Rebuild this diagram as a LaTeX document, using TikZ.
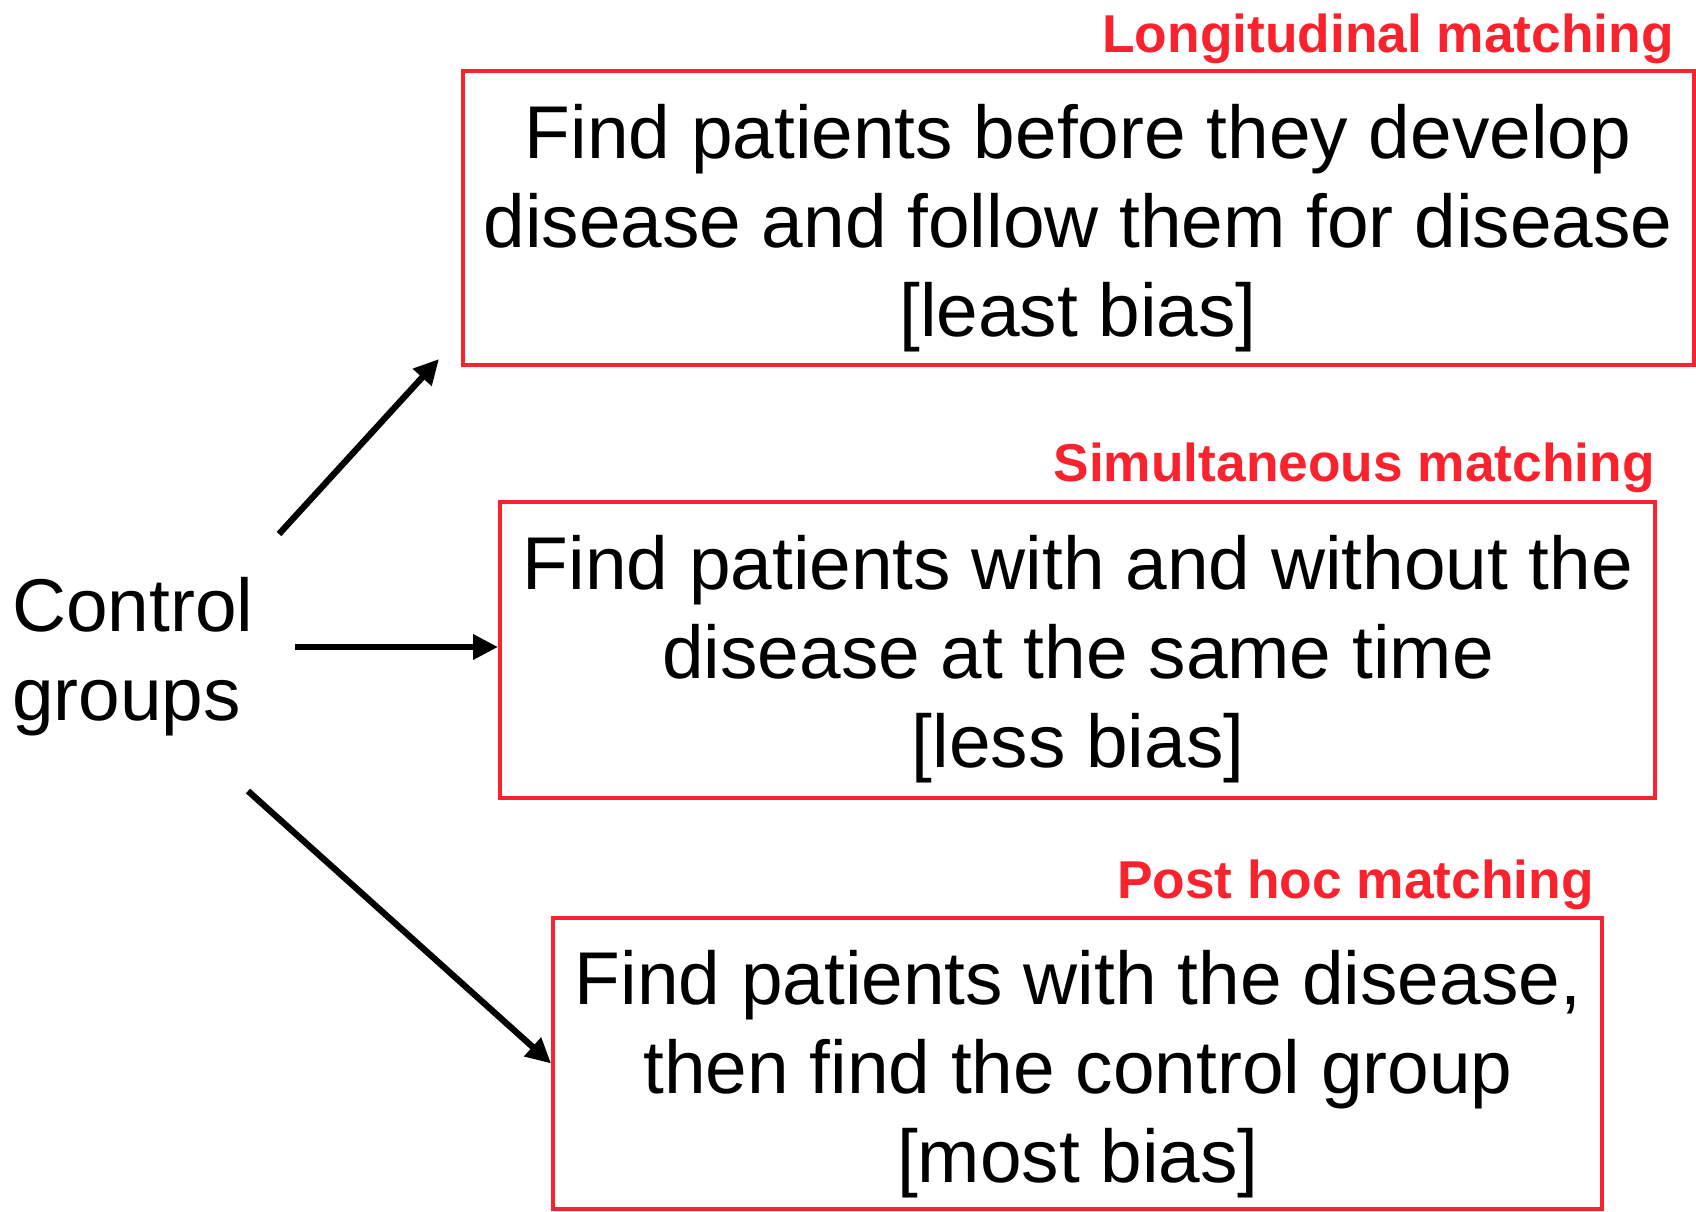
\documentclass[tikz,border=0pt]{standalone}
\usepackage{fontspec}
\setmainfont{Liberation Sans}
\usetikzlibrary{arrows.meta}
\definecolor{boxred}{RGB}{250,35,45}
\tikzset{
  redbox/.style={draw=boxred, line width=3.8pt, inner sep=0pt},
  bodytext/.style={align=center, inner sep=0pt, font=\fontsize{74.8pt}{89pt}\selectfont},
  tag/.style={text=boxred, inner sep=0pt, font=\bfseries\fontsize{53.3pt}{60pt}\selectfont},
  link/.style={line width=6.3pt, -{Triangle[length=25pt,width=24pt]}}
}
\begin{document}
\begin{tikzpicture}[x=1pt,y=-1pt]
\useasboundingbox (0,0) rectangle (1696,1211);

% three method boxes
\node[redbox, minimum width=1231pt, minimum height=294pt] (b1) at (1078.5,218) {};
\node[redbox, minimum width=1155pt, minimum height=296pt] (b2) at (1077.5,650) {};
\node[redbox, minimum width=1049pt, minimum height=291pt] (b3) at (1077.5,1063.5) {};

\node[bodytext] (t1) at (1078,228) {Find patients before they develop\\disease and follow them for disease\\{[least bias]}};
\node[bodytext] (t2) at (1078,659) {Find patients with and without the\\disease at the same time\\{[less bias]}};
\node[bodytext] (t3) at (1078,1074) {Find patients with the disease,\\then find the control group\\{[most bias]}};

% red headings above the boxes
\node[tag, anchor=base east] (h1) at (1674,52) {Longitudinal matching};
\node[tag, anchor=base east] (h2) at (1655,481) {Simultaneous matching};
\node[tag, anchor=base east] (h3) at (1594,898) {Post hoc matching};

% source label
\node[bodytext, align=left, anchor=west] (cg) at (12,657) {Control\\groups};

% arrow end points
\coordinate (s1) at (279,534);
\coordinate (e1) at (439,359);
\coordinate (s2) at (295,647);
\coordinate (s3) at (248,791);

\draw[link] (s1) -- (e1);
\draw[link] (s2) -- (b2.west |- s2);
\draw[link] (s3) -- (b3.west);
\end{tikzpicture}
\end{document}
